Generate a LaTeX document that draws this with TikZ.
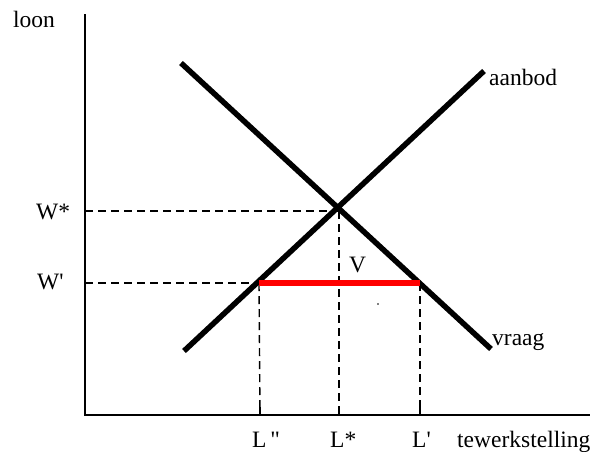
\documentclass[tikz,border=0pt]{standalone}
\usepackage{fontspec}
\setmainfont{Liberation Serif}
\newfontfamily\labfont{Liberation Serif}
\begin{document}
\begin{tikzpicture}[x=1pt,y=-1pt,
  axis/.style={line width=2.6pt},
  curve/.style={line width=5.5pt},
  guide/.style={line width=1.4pt, dash pattern=on 8pt off 5pt},
  redbar/.style={line width=6pt, red},
  lbl/.style={anchor=base west, inner sep=0pt, font=\labfont\fontsize{23.5}{27}\selectfont}]
\useasboundingbox (0,0) rectangle (595,451);
% axes
\coordinate (O) at (85,415);
\coordinate (ytop) at (85,14);
\coordinate (xend) at (590,415);
\draw[axis] (ytop) -- (O) -- (xend);
% ticks
\coordinate (t1) at (260,415); \coordinate (t1u) at (260,407);
\coordinate (t2) at (339,415); \coordinate (t2u) at (339,407);
\coordinate (t3) at (420,415); \coordinate (t3u) at (420,406);
\draw[line width=1.2pt] (t1) -- (t1u) (t2) -- (t2u) (t3) -- (t3u);
% key points
\coordinate (E) at (339,211);
\coordinate (A) at (259,283);
\coordinate (B) at (420,283);
\coordinate (wstar) at (85,211);
\coordinate (wprime) at (85,283);
% guides
\draw[guide] (wstar) -- (E);
\draw[guide] (wprime) -- (A);
\draw[guide] (E) -- (t2);
\draw[guide] (A) -- (t1);
\draw[guide] (B) -- (t3);
% curves
\coordinate (s1) at (184,351);
\coordinate (s2) at (484,71);
\coordinate (d1) at (181,63);
\coordinate (d2) at (491,349);
\draw[curve] (s1) -- (s2);
\draw[curve] (d1) -- (d2);
% red bar
\draw[redbar] (A) -- (B);
\fill (378,304) circle (0.8pt);
% labels
\node[lbl] (loon) at (13,27) {loon};
\node[lbl] (Wst) at (36,219) {W*};
\node[lbl] (Wpr) at (37,289) {W'};
\node[lbl] (V) at (349,272) {V};
\node[lbl] (L2) at (252,447) {L\,"};
\node[lbl] (Ls) at (330,447) {L*};
\node[lbl] (Lp) at (412,447) {L'};
\node[lbl] (tew) at (457,447) {tewerkstelling};
\node[lbl] (aan) at (489,85) {aanbod};
\node[lbl] (vr) at (492,345) {vraag};
\end{tikzpicture}
\end{document}
